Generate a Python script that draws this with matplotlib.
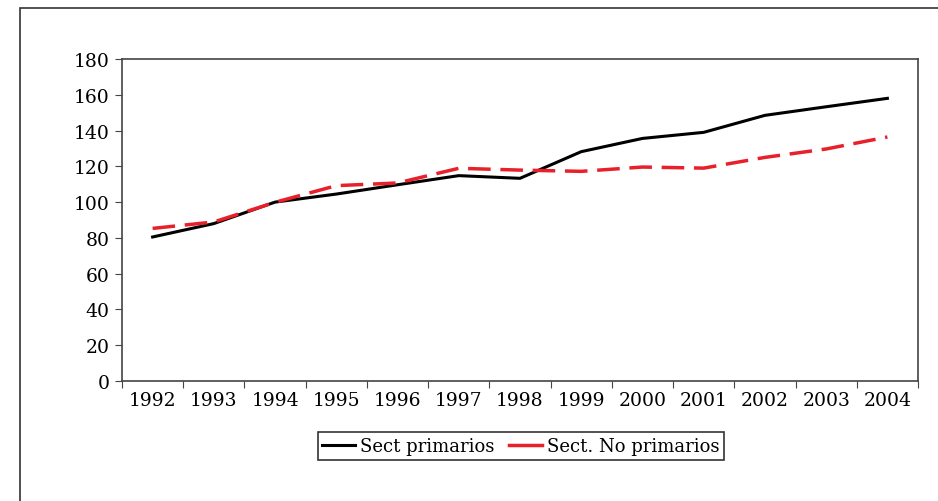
import matplotlib
matplotlib.use('Agg')
import matplotlib.pyplot as plt
from matplotlib.patches import Rectangle
from matplotlib.lines import Line2D
import numpy as np

years = ['1992', '1993', '1994', '1995', '1996', '1997', '1998',
         '1999', '2000', '2001', '2002', '2003', '2004']
primarios = [80.5, 88, 100, 104.5, 109.7, 114.8, 113.3,
             128.2, 135.6, 139, 148.5, 153.3, 158]
no_primarios = [85.3, 88.9, 99.9, 109.2, 110.7, 118.9, 117.9,
                117.2, 119.6, 119, 125, 129.7, 136.4]

plt.rcParams['font.family'] = ['DejaVu Serif']

fig = plt.figure(figsize=(9.38, 5.02), dpi=100)
W, H = 938, 502

# outer frame of the chart object (right and bottom edges fall outside the image)
fig.patches.append(Rectangle((20 / W, -0.1), 1.2, 1.1 - 9 / H, transform=fig.transFigure,
                             fill=False, edgecolor='#333333', linewidth=1.2))

ax = fig.add_axes([122 / W, 1 - 382 / H, (918 - 122) / W, (382 - 60) / H])

red = '#e8202a'
x = np.arange(len(years))
ax.plot(x, primarios, color='black', linewidth=2.2)
ax.plot(x, no_primarios, color=red, linewidth=2.5, dashes=(6.5, 2.8))

ax.set_xlim(-0.5, len(years) - 0.5)
ax.set_ylim(0, 180)
ax.set_yticks(range(0, 181, 20))
ax.set_xticks(np.arange(-0.5, len(years), 1.0))
ax.set_xticklabels([])
ax.set_xticks(x, minor=True)
ax.set_xticklabels(years, minor=True)
ax.tick_params(axis='x', which='minor', length=0, pad=7, labelsize=13.5)
ax.tick_params(axis='x', which='major', direction='out', length=5, color='#444444')
ax.tick_params(axis='y', direction='out', length=5, labelsize=13.5, color='#444444', pad=4)

for s in ax.spines.values():
    s.set_color('#444444')
    s.set_linewidth(1.2)

# legend shows solid swatches, as in the original
handles = [Line2D([], [], color='black', linewidth=2.2),
           Line2D([], [], color=red, linewidth=2.5)]
leg = fig.legend(handles, ['Sect primarios', 'Sect. No primarios'],
                 loc='center', bbox_to_anchor=(521 / W, 1 - 447 / H), ncol=2,
                 frameon=True, fancybox=False, edgecolor='#333333', fontsize=13,
                 handlelength=1.8, handletextpad=0.3, columnspacing=0.8,
                 borderpad=0.25, framealpha=1)
leg.get_frame().set_linewidth(1.2)

fig.savefig('out.png', dpi=100)
